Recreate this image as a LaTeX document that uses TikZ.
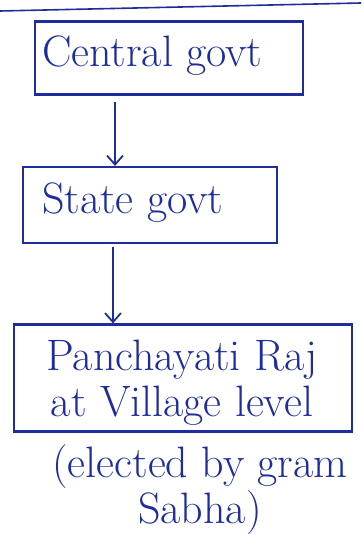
\documentclass[tikz,border=0pt]{standalone}
\usetikzlibrary{arrows.meta}
\definecolor{ink}{RGB}{30,45,155}
\tikzset{
  box/.style={draw=ink, line width=2.2pt, rectangle, inner sep=0pt},
  hand/.style={text=ink, font=\fontsize{44}{46}\selectfont, inner sep=0pt},
  flow/.style={draw=ink, line width=1.8pt, -{Straight Barb[length=9pt,width=16pt,line width=1.8pt]}},
  rule/.style={draw=ink, line width=1.6pt}
}
\begin{document}
\begin{tikzpicture}[x=1pt,y=-1pt]
  \useasboundingbox (0,0) rectangle (361,534);
  % ruled line of the sheet
  \coordinate (r1) at (0,11);
  \coordinate (r2) at (361,3);
  \draw[rule] (r1) -- (r2);
  % boxes
  \node[box, minimum width=268pt, minimum height=73pt] (b1) at (169,58) {};
  \node[box, minimum width=254pt, minimum height=76pt] (b2) at (150,205) {};
  \node[box, minimum width=338pt, minimum height=107pt] (b3) at (183,378) {};
  % labels
  \node[hand, anchor=west] (t1) at ([xshift=8pt,yshift=2pt]b1.west) {Central govt};
  \node[hand, anchor=west] (t2) at ([xshift=20pt,yshift=2pt]b2.west) {State govt};
  \node[hand, align=center] (t3) at (182,383) {Panchayati Raj\\at Village level};
  \node[hand, align=center] (t4) at (200,490) {(elected by gram\\Sabha)};
  % connectors
  \draw[flow, shorten <=6pt] ([xshift=-54pt]b1.south) -- ([xshift=-35pt]b2.north);
  \draw[flow, shorten <=3pt] ([xshift=-37pt]b2.south) -- ([xshift=-70pt]b3.north);
\end{tikzpicture}
\end{document}
